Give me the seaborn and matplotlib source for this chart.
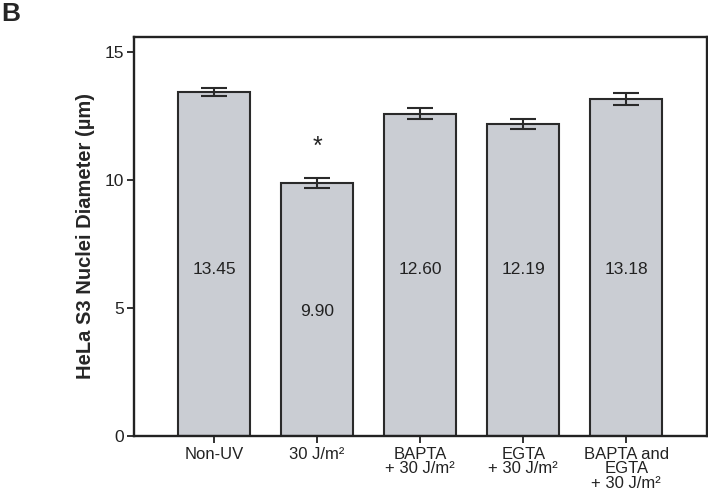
import pandas as pd
import seaborn as sns
from matplotlib import pyplot as plt

conditions = ["Non-UV", "30 J/m²", "BAPTA\n+ 30 J/m²", "EGTA\n+ 30 J/m²", "BAPTA and\nEGTA\n+ 30 J/m²"]
diameters = [13.45, 9.90, 12.60, 12.19, 13.18]
errors = [0.17, 0.20, 0.22, 0.20, 0.24]
value_labels = ["13.45", "9.90", "12.60", "12.19", "13.18"]

sns.set_style("white")
plt.rcParams['font.family'] = ['Liberation Sans', 'DejaVu Sans']

df = pd.DataFrame({'condition': conditions, 'diameter': diameters})

fig = plt.figure(figsize=(7.08, 5.01), dpi=100)
ax = fig.add_axes([0.189, 0.130, 0.809, 0.796])

sns.barplot(data=df, x='condition', y='diameter', color='#c8ccd4', width=0.7,
            edgecolor='#2a2a2a', linewidth=1.5, errorbar=None, ax=ax)
ax.errorbar(range(len(diameters)), diameters, yerr=errors, fmt='none',
            ecolor='#2a2a2a', elinewidth=1.5, capsize=9.5, capthick=1.5)

# value labels inside bars
for i, lab in enumerate(value_labels):
    y = 4.85 if i == 1 else 6.5
    ax.text(i, y, lab, ha='center', va='center', fontsize=12.5, color='#222222')

# significance marker
ax.text(1, 11.3, "*", ha='center', va='center', fontsize=18, color='#222222')

ax.set_xlim(-0.78, 4.78)
ax.set_ylim(0, 15.6)
ax.set_yticks([0, 5, 10, 15])
ax.set_xlabel("")
ax.set_ylabel("HeLa S3 Nuclei Diameter (µm)", fontsize=14.5, fontweight='bold', labelpad=7)

for s in ax.spines.values():
    s.set_color('#222222')
    s.set_linewidth(1.7)
ax.tick_params(axis='both', direction='out', length=5, width=1.3, color='#222222',
               labelsize=12.5, labelcolor='#222222', left=True, bottom=True, pad=2)
ax.tick_params(axis='x', labelsize=12, pad=3)
for t in ax.get_xticklabels():
    t.set_linespacing(0.95)

fig.text(0.002, 0.997, "B", fontsize=19, fontweight='bold', ha='left', va='top')

fig.savefig("out.png", dpi=100)
